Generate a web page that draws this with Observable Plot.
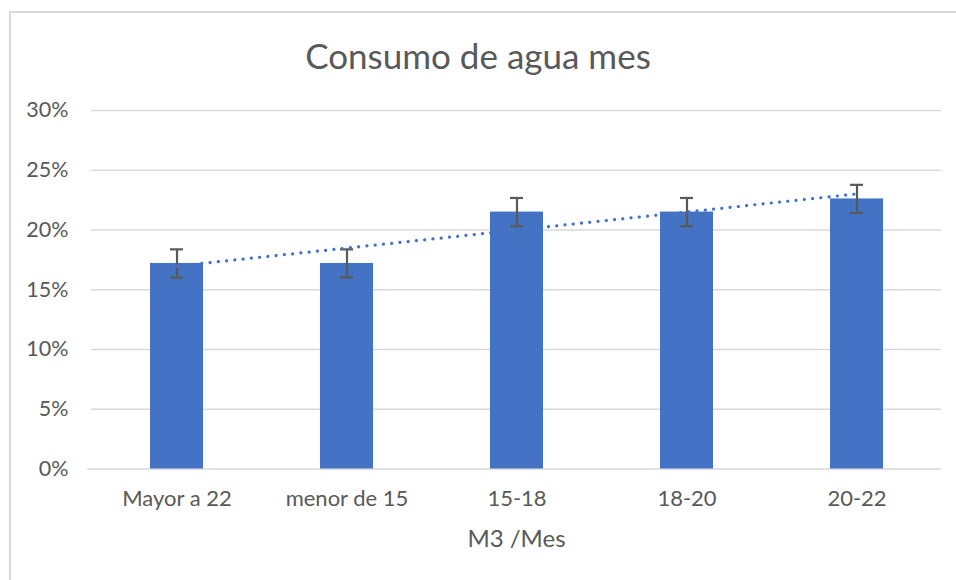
<!DOCTYPE html>
<html>
<head>
<meta charset="utf-8">
<script src="https://cdn.jsdelivr.net/npm/d3@7"></script>
<script src="https://cdn.jsdelivr.net/npm/@observablehq/plot@0.6"></script>
<style>
  html, body { margin: 0; padding: 0; background: #fff; }
  #wrap { position: relative; width: 956px; height: 580px; overflow: hidden; font-family: Lato, "Open Sans", sans-serif; }
  #frame { position: absolute; left: 9px; top: 11px; width: 1000px; height: 700px; border-left: 2px solid #d9d9d9; border-top: 2px solid #d9d9d9; box-sizing: border-box; }
  #title { position: absolute; left: 0; top: 0; width: 956px; height: 90px; line-height: 111px; text-align: center; font-size: 35px; color: #595959; }
  #chart { position: absolute; left: 0; top: 90px; }
</style>
</head>
<body>
<div id="wrap">
  <div id="frame"></div>
  <div id="title">Consumo de agua mes</div>
  <div id="chart"></div>
</div>
<script>
const categories = ["Mayor a 22", "menor de 15", "15-18", "18-20", "20-22"];
const values = [0.172, 0.172, 0.215, 0.215, 0.226];
const errors = [0.0118, 0.0118, 0.0118, 0.0118, 0.0118];
const yTicks = [0, 0.05, 0.10, 0.15, 0.20, 0.25, 0.30];
const xLabel = "M3 /Mes";

const data = categories.map((c, i) => ({cat: c, value: values[i], lo: values[i] - errors[i], hi: values[i] + errors[i], i: i + 1}));

// linear trendline (least squares on category index)
const mx = d3.mean(data, d => d.i), my = d3.mean(data, d => d.value);
const slope = d3.sum(data, d => (d.i - mx) * (d.value - my)) / d3.sum(data, d => (d.i - mx) ** 2);
const trend = data.map(d => ({cat: d.cat, fit: my + slope * (d.i - mx)}));

const plot = Plot.plot({
  width: 956,
  height: 490,
  marginTop: 20,
  marginBottom: 111.5,
  marginLeft: 91,
  marginRight: 15,
  style: {fontFamily: "Lato, 'Open Sans', sans-serif", color: "#595959", background: "transparent"},
  x: {domain: categories, paddingInner: 0.69, paddingOuter: 0.345, label: null},
  y: {domain: [0, 0.30], label: null},
  marks: [
    Plot.gridY(yTicks.filter(t => t > 0), {stroke: "#d9d9d9", strokeOpacity: 1, strokeWidth: 1.5}),
    Plot.ruleY([0], {stroke: "#d9d9d9", strokeWidth: 1.5, insetLeft: -4}),
    Plot.barY(data, {x: "cat", y: "value", fill: "#4472c4"}),
    Plot.ruleX(data, {x: "cat", y1: "lo", y2: "hi", stroke: "#595959", strokeWidth: 2.2}),
    Plot.tickY(data, {x: "cat", y: "lo", stroke: "#595959", strokeWidth: 2.2, insetLeft: 20, insetRight: 20}),
    Plot.tickY(data, {x: "cat", y: "hi", stroke: "#595959", strokeWidth: 2.2, insetLeft: 20, insetRight: 20}),
    Plot.lineY(trend, {x: "cat", y: "fit", stroke: "#4472c4", strokeWidth: 3.2, strokeDasharray: "0.1 8.2", strokeLinecap: "round"}),
    Plot.axisY({ticks: yTicks, tickFormat: d3.format(".0%"), tickSize: 0, tickPadding: 23, fontSize: 21.5, label: null}),
    Plot.axisX({tickSize: 0, tickPadding: 21, fontSize: 22, label: xLabel, labelAnchor: "center", labelArrow: "none", labelOffset: 78})
  ]
});
plot.querySelectorAll("[aria-label='x-axis label']").forEach(e => e.setAttribute("font-size", 24));
document.getElementById("chart").appendChild(plot);
</script>
</body>
</html>
